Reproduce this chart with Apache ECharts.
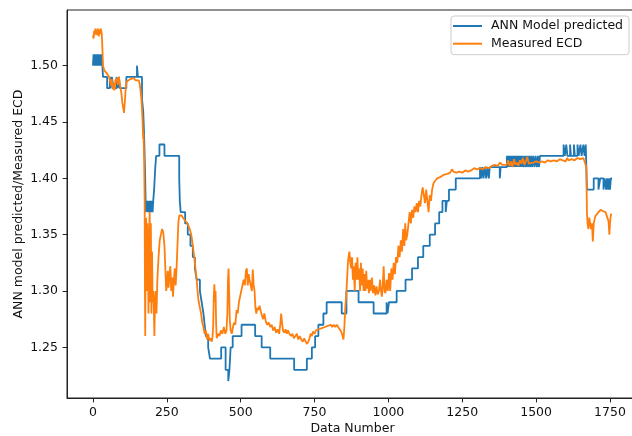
<!DOCTYPE html>
<html>
<head>
<meta charset="utf-8">
<script src="https://cdn.jsdelivr.net/npm/echarts@6/dist/echarts.min.js"></script>
<style>
html,body{margin:0;padding:0;background:#fff;}
#chart{width:632px;height:436px;}
</style>
</head>
<body>
<div id="chart"></div>
<script>
// ---- data ----
const xTicks = [0, 250, 500, 750, 1000, 1250, 1500, 1750];
const yTicks = [1.25, 1.30, 1.35, 1.40, 1.45, 1.50];
const seriesNames = ['ANN Model predicted', 'Measured ECD'];

// ANN prediction: [data number, value] where each value holds until the next point
const annSteps = [
[0,1.50],[2,1.51],[4,1.50],[6,1.51],[8,1.50],[10,1.51],[12,1.50],[14,1.51],[16,1.50],[18,1.51],[20,1.50],[22,1.51],[24,1.50],[26,1.51],[28,1.50],[30,1.51],
[32,1.50],[34,1.49],[48,1.48],[57,1.49],[60,1.48],[64,1.49],[70,1.48],[80,1.49],[84,1.48],[88,1.49],[91,1.48],[113,1.49],[149,1.50],[152,1.49],
[166,1.47],[170,1.46],[173,1.44],[176,1.41],[179,1.37],[184,1.38],[186,1.37],[188,1.38],[190,1.37],[192,1.38],[194,1.37],[196,1.38],[198,1.37],[200,1.38],[202,1.37],[204,1.38],
[207,1.39],[209,1.40],[211,1.41],[214,1.42],[225,1.43],[242,1.42],[292,1.40],[294,1.38],[297,1.37],[312,1.36],[321,1.35],[330,1.34],[338,1.33],[345,1.32],[351,1.31],
[362,1.30],[368,1.29],[374,1.28],[378,1.27],[382,1.26],[390,1.25],[396,1.24],[434,1.25],[449,1.23],[458,1.22],[462,1.23],[466,1.25],[473,1.26],[503,1.27],[549,1.26],
[571,1.25],[600,1.24],[681,1.23],[724,1.24],[741,1.25],[752,1.26],[763,1.27],[780,1.28],[791,1.29],[842,1.28],[858,1.30],[899,1.29],[950,1.28],[994,1.29],[997,1.28],
[1002,1.29],[1028,1.30],[1058,1.31],[1080,1.32],[1100,1.33],[1118,1.34],[1140,1.35],[1158,1.36],[1172,1.37],[1183,1.38],[1194,1.37],[1198,1.38],[1205,1.39],[1228,1.40],
[1310,1.41],[1314,1.40],[1318,1.41],[1322,1.40],[1326,1.41],[1331,1.40],[1335,1.41],[1340,1.40],[1343,1.41],[1377,1.40],[1380,1.41],
[1401,1.42],[1404,1.41],[1407,1.42],[1410,1.41],[1413,1.42],[1416,1.41],[1419,1.42],[1422,1.41],[1425,1.42],[1428,1.41],[1431,1.42],[1434,1.41],[1437,1.42],[1440,1.41],
[1443,1.42],[1446,1.41],[1449,1.42],[1452,1.41],[1455,1.42],[1459,1.41],[1462,1.42],[1466,1.41],[1469,1.42],[1473,1.41],[1476,1.42],[1480,1.41],[1483,1.42],[1487,1.41],
[1490,1.42],[1495,1.41],[1498,1.42],[1503,1.41],[1506,1.42],[1510,1.41],[1513,1.42],
[1593,1.43],[1597,1.42],[1602,1.43],[1606,1.42],[1615,1.43],[1618,1.42],[1628,1.43],[1631,1.42],[1640,1.43],[1644,1.42],[1650,1.43],[1654,1.42],
[1660,1.43],[1664,1.42],[1668,1.43],[1672,1.39],[1695,1.40],[1711,1.39],[1717,1.40],[1728,1.39],[1732,1.40],[1737,1.39],[1740,1.40],[1744,1.39],[1747,1.40],[1750,1.39],
[1753,1.40],[1757,1.40]
];

// Measured ECD: [data number, value]
const measuredEcd = [
[0,1.527],[2,1.524],[4,1.531],[6,1.527],[8,1.533],[10,1.528],[12,1.532],[14,1.527],[16,1.533],[18,1.529],[20,1.526],[22,1.532],[24,1.528],[26,1.533],[28,1.531],[30,1.528],
[32,1.515],[34,1.50],[38,1.496],[44,1.494],[50,1.492],[55,1.49],[58,1.486],[62,1.482],[64,1.488],[67,1.479],[70,1.484],[73,1.478],[76,1.487],[80,1.489],[84,1.483],
[88,1.49],[92,1.482],[96,1.476],[99,1.468],[102,1.463],[105,1.458],[108,1.468],[111,1.48],[114,1.486],[120,1.487],[126,1.488],[132,1.487],[138,1.489],[144,1.487],
[150,1.488],[155,1.487],[158,1.484],[161,1.478],[164,1.47],[166,1.462],[168,1.45],[170,1.435],[171,1.44],[173,1.42],[175,1.38],[176,1.30],[177,1.26],[178,1.33],
[180,1.365],[182,1.30],[184,1.36],[186,1.33],[188,1.28],[190,1.35],[192,1.37],[194,1.29],[196,1.36],[198,1.28],[200,1.335],[202,1.29],[204,1.30],[206,1.285],
[208,1.26],[210,1.29],[212,1.30],[215,1.28],[218,1.31],[222,1.33],[226,1.345],[230,1.35],[234,1.355],[238,1.352],[242,1.34],[245,1.32],[248,1.30],[250,1.305],
[253,1.318],[256,1.303],[259,1.315],[262,1.322],[265,1.30],[268,1.312],[271,1.295],[274,1.31],[277,1.32],[280,1.305],[283,1.32],[286,1.34],[289,1.36],[292,1.367],
[296,1.366],[300,1.367],[305,1.365],[310,1.363],[317,1.361],[323,1.358],[329,1.354],[334,1.348],[340,1.336],[345,1.325],[351,1.31],[354,1.30],[357,1.292],[362,1.285],
[366,1.28],[370,1.272],[374,1.268],[378,1.262],[382,1.265],[386,1.257],[390,1.262],[394,1.256],[398,1.258],[402,1.255],[405,1.26],[407,1.27],[409,1.295],[411,1.306],
[413,1.29],[415,1.30],[417,1.27],[419,1.258],[423,1.262],[428,1.26],[433,1.265],[438,1.262],[443,1.268],[448,1.262],[452,1.265],[455,1.28],[457,1.31],[459,1.32],
[461,1.30],[463,1.275],[466,1.265],[470,1.262],[474,1.268],[478,1.272],[482,1.27],[486,1.283],[490,1.28],[494,1.29],[498,1.29],[502,1.30],[506,1.305],[510,1.31],
[514,1.305],[518,1.318],[521,1.32],[524,1.305],[527,1.315],[530,1.31],[534,1.31],[538,1.30],[541,1.319],[544,1.305],[547,1.30],[550,1.285],[553,1.28],[556,1.285],
[560,1.283],[564,1.287],[568,1.282],[572,1.278],[576,1.275],[580,1.28],[585,1.273],[590,1.27],[595,1.272],[600,1.268],[605,1.27],[610,1.265],[615,1.268],[620,1.263],
[625,1.266],[630,1.262],[634,1.27],[637,1.28],[640,1.272],[643,1.265],[648,1.263],[652,1.266],[656,1.262],[660,1.265],[665,1.262],[670,1.26],[675,1.262],[680,1.258],
[685,1.26],[690,1.262],[695,1.257],[700,1.26],[705,1.257],[710,1.255],[715,1.258],[720,1.255],[725,1.253],[729,1.255],[733,1.258],[737,1.262],[741,1.26],[745,1.264],
[750,1.262],[755,1.265],[760,1.264],[765,1.266],[770,1.265],[775,1.267],[780,1.266],[785,1.268],[790,1.267],[795,1.269],[800,1.268],[805,1.27],[810,1.268],[815,1.27],
[820,1.268],[825,1.27],[830,1.269],[835,1.266],[840,1.264],[845,1.26],[848,1.257],[851,1.268],[854,1.285],[857,1.295],[860,1.31],[863,1.325],[865,1.33],[868,1.335],
[871,1.325],[874,1.32],[877,1.33],[880,1.31],[883,1.322],[886,1.30],[889,1.325],[892,1.31],[895,1.33],[898,1.31],[901,1.32],[904,1.30],[907,1.325],[910,1.305],
[913,1.32],[916,1.30],[919,1.315],[922,1.30],[925,1.318],[928,1.302],[931,1.31],[934,1.298],[937,1.31],[940,1.30],[944,1.312],[948,1.298],[952,1.305],[956,1.296],
[960,1.304],[964,1.297],[968,1.30],[972,1.31],[975,1.30],[978,1.295],[981,1.305],[984,1.322],[987,1.30],[990,1.298],[994,1.31],[998,1.30],[1002,1.316],[1006,1.30],
[1010,1.32],[1014,1.31],[1018,1.325],[1022,1.315],[1026,1.33],[1030,1.325],[1034,1.34],[1038,1.33],[1042,1.345],[1046,1.335],[1050,1.355],[1054,1.34],[1057,1.36],
[1060,1.345],[1064,1.35],[1068,1.36],[1072,1.37],[1076,1.36],[1080,1.372],[1084,1.365],[1088,1.375],[1092,1.37],[1096,1.378],[1100,1.37],[1104,1.38],[1108,1.375],
[1112,1.385],[1116,1.392],[1120,1.385],[1124,1.378],[1128,1.39],[1132,1.38],[1136,1.37],[1140,1.385],[1144,1.38],[1148,1.39],[1152,1.395],[1156,1.397],[1160,1.398],
[1165,1.40],[1175,1.401],[1186,1.403],[1200,1.404],[1209,1.405],[1215,1.408],[1220,1.406],[1230,1.405],[1240,1.406],[1250,1.405],[1260,1.407],[1270,1.406],[1280,1.407],
[1290,1.409],[1300,1.408],[1310,1.409],[1320,1.408],[1330,1.41],[1340,1.409],[1350,1.411],[1356,1.41],[1360,1.412],[1370,1.411],[1378,1.414],[1385,1.412],[1390,1.413],
[1400,1.412],[1405,1.416],[1410,1.411],[1415,1.415],[1420,1.41],[1425,1.417],[1430,1.412],[1435,1.414],[1440,1.411],[1445,1.416],[1450,1.413],[1455,1.418],[1460,1.412],
[1465,1.415],[1470,1.419],[1475,1.413],[1480,1.414],[1490,1.414],[1500,1.415],[1510,1.414],[1520,1.415],[1530,1.414],[1540,1.416],[1550,1.415],[1560,1.416],[1570,1.415],
[1580,1.417],[1590,1.416],[1600,1.415],[1605,1.418],[1610,1.416],[1620,1.417],[1630,1.416],[1640,1.418],[1649,1.417],[1655,1.416],[1660,1.418],[1666,1.417],[1670,1.41],
[1672,1.37],[1674,1.36],[1677,1.355],[1680,1.365],[1683,1.36],[1686,1.355],[1689,1.36],[1692,1.344],[1695,1.36],[1700,1.366],[1705,1.368],[1711,1.37],[1718,1.372],
[1725,1.371],[1730,1.372],[1735,1.37],[1740,1.37],[1745,1.362],[1748,1.35],[1750,1.36],[1753,1.368],[1757,1.368]
];

// ---- chart ----
const FONT = 'DejaVu Sans';
const chart = echarts.init(document.getElementById('chart'), null, {renderer: 'canvas'});
chart.setOption({
  animation: false,
  backgroundColor: '#ffffff',
  textStyle: {fontFamily: FONT},
  grid: {left: 67, top: 10, width: 571, height: 388, outerBoundsMode: 'none', containLabel: false,
         show: true, borderColor: '#222', borderWidth: 1, backgroundColor: 'transparent'},
  legend: {
    data: seriesNames,
    orient: 'vertical',
    left: 451, top: 16,
    padding: [3, 6, 4, 2],
    icon: 'rect',
    itemWidth: 29, itemHeight: 2, itemGap: 3.7,
    backgroundColor: 'rgba(255,255,255,0.8)',
    borderColor: '#cccccc', borderWidth: 1, borderRadius: 3,
    textStyle: {fontFamily: FONT, fontSize: 12.5, color: '#111', lineHeight: 14, padding: [0, 0, 0, 4]}
  },
  xAxis: {
    type: 'value', min: -87.85, max: 1844.85,
    name: 'Data Number', nameLocation: 'middle', nameGap: 24, nameMoveOverlap: false,
    nameTextStyle: {fontFamily: FONT, fontSize: 12.5, color: '#111'},
    axisLine: {show: true, onZero: false, lineStyle: {color: '#222', width: 1}},
    axisTick: {show: true, inside: false, length: 4.4, lineStyle: {color: '#222'}, customValues: xTicks},
    axisLabel: {fontFamily: FONT, fontSize: 12.5, color: '#111', margin: 8, customValues: xTicks, formatter: v => String(v)},
    splitLine: {show: false}
  },
  yAxis: {
    type: 'value', min: 1.205, max: 1.5494,
    name: 'ANN model predicted/Measured ECD', nameLocation: 'middle', nameGap: 42, nameMoveOverlap: false,
    nameTextStyle: {fontFamily: FONT, fontSize: 12.5, color: '#111'},
    axisLine: {show: true, onZero: false, lineStyle: {color: '#222', width: 1}},
    axisTick: {show: true, inside: false, length: 4.4, lineStyle: {color: '#222'}, customValues: yTicks},
    axisLabel: {fontFamily: FONT, fontSize: 12.5, color: '#111', margin: 9, customValues: yTicks, formatter: v => v.toFixed(2)},
    splitLine: {show: false}
  },
  series: [
    {
      name: seriesNames[0], type: 'line', data: annSteps, step: 'end',
      symbol: 'none', showSymbol: false,
      lineStyle: {color: '#1f77b4', width: 1.8}, itemStyle: {color: '#1f77b4'}, z: 2
    },
    {
      name: seriesNames[1], type: 'line', data: measuredEcd,
      symbol: 'none', showSymbol: false,
      lineStyle: {color: '#ff7f0e', width: 1.8}, itemStyle: {color: '#ff7f0e'}, z: 3
    }
  ]
});
</script>
</body>
</html>
